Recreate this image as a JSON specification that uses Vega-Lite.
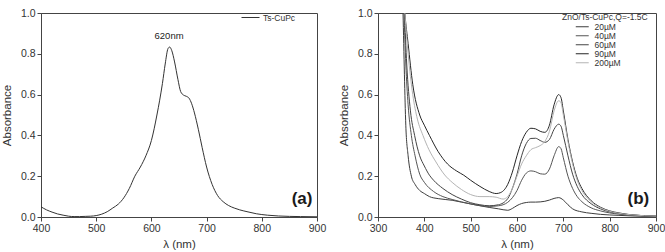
{
  "$schema": "https://vega.github.io/schema/vega-lite/v6.json",
  "padding": {"left": 0, "top": 7, "right": 2, "bottom": 0},
  "background": "white",
  "spacing": 10,
  "config": {
    "font": "Liberation Sans",
    "view": {"stroke": "#444", "strokeWidth": 1},
    "axis": {
      "labelFont": "Liberation Sans", "labelFontSize": 10.5, "labelColor": "#333",
      "titleFont": "Liberation Sans", "titleFontSize": 11.5, "titleFontWeight": "normal", "titleColor": "#333",
      "domainColor": "#444", "tickColor": "#444", "grid": false, "labelPadding": 2
    },
    "legend": {"labelFont": "Liberation Sans", "titleFont": "Liberation Sans"}
  },
  "datasets": {
    "tscupc": [
      {"lambda": 400, "A": 0.05}, {"lambda": 410, "A": 0.035}, {"lambda": 420, "A": 0.024}, {"lambda": 430, "A": 0.015},
      {"lambda": 440, "A": 0.009}, {"lambda": 450, "A": 0.004}, {"lambda": 460, "A": 0.002}, {"lambda": 470, "A": 0.002},
      {"lambda": 480, "A": 0.003}, {"lambda": 490, "A": 0.004}, {"lambda": 500, "A": 0.007}, {"lambda": 510, "A": 0.014},
      {"lambda": 520, "A": 0.026}, {"lambda": 530, "A": 0.044}, {"lambda": 540, "A": 0.063}, {"lambda": 550, "A": 0.094},
      {"lambda": 560, "A": 0.14}, {"lambda": 570, "A": 0.2}, {"lambda": 580, "A": 0.245}, {"lambda": 590, "A": 0.3},
      {"lambda": 600, "A": 0.375}, {"lambda": 610, "A": 0.5}, {"lambda": 620, "A": 0.655}, {"lambda": 625, "A": 0.75},
      {"lambda": 630, "A": 0.825}, {"lambda": 633, "A": 0.833}, {"lambda": 637, "A": 0.815}, {"lambda": 642, "A": 0.76},
      {"lambda": 648, "A": 0.675}, {"lambda": 653, "A": 0.615}, {"lambda": 658, "A": 0.598}, {"lambda": 663, "A": 0.592},
      {"lambda": 668, "A": 0.583}, {"lambda": 673, "A": 0.555}, {"lambda": 678, "A": 0.51}, {"lambda": 685, "A": 0.43},
      {"lambda": 692, "A": 0.34}, {"lambda": 700, "A": 0.245}, {"lambda": 710, "A": 0.16}, {"lambda": 720, "A": 0.105},
      {"lambda": 730, "A": 0.075}, {"lambda": 740, "A": 0.056}, {"lambda": 750, "A": 0.044}, {"lambda": 760, "A": 0.035},
      {"lambda": 775, "A": 0.025}, {"lambda": 790, "A": 0.016}, {"lambda": 810, "A": 0.009}, {"lambda": 830, "A": 0.005},
      {"lambda": 850, "A": 0.003}, {"lambda": 870, "A": 0.002}, {"lambda": 900, "A": 0.001}
    ],
    "films": [
      {"conc": "20µM", "lambda": 350, "A": 1.3}, {"conc": "20µM", "lambda": 354, "A": 1.0}, {"conc": "20µM", "lambda": 357, "A": 0.7},
      {"conc": "20µM", "lambda": 360, "A": 0.45}, {"conc": "20µM", "lambda": 365, "A": 0.3}, {"conc": "20µM", "lambda": 372, "A": 0.2},
      {"conc": "20µM", "lambda": 380, "A": 0.16}, {"conc": "20µM", "lambda": 390, "A": 0.13}, {"conc": "20µM", "lambda": 400, "A": 0.115},
      {"conc": "20µM", "lambda": 411, "A": 0.1}, {"conc": "20µM", "lambda": 430, "A": 0.09}, {"conc": "20µM", "lambda": 460, "A": 0.082},
      {"conc": "20µM", "lambda": 480, "A": 0.073}, {"conc": "20µM", "lambda": 500, "A": 0.064}, {"conc": "20µM", "lambda": 520, "A": 0.055},
      {"conc": "20µM", "lambda": 540, "A": 0.047}, {"conc": "20µM", "lambda": 560, "A": 0.04}, {"conc": "20µM", "lambda": 580, "A": 0.033},
      {"conc": "20µM", "lambda": 590, "A": 0.042}, {"conc": "20µM", "lambda": 600, "A": 0.056}, {"conc": "20µM", "lambda": 610, "A": 0.066},
      {"conc": "20µM", "lambda": 620, "A": 0.071}, {"conc": "20µM", "lambda": 630, "A": 0.073}, {"conc": "20µM", "lambda": 640, "A": 0.073},
      {"conc": "20µM", "lambda": 650, "A": 0.074}, {"conc": "20µM", "lambda": 660, "A": 0.077}, {"conc": "20µM", "lambda": 670, "A": 0.083},
      {"conc": "20µM", "lambda": 680, "A": 0.091}, {"conc": "20µM", "lambda": 690, "A": 0.095}, {"conc": "20µM", "lambda": 700, "A": 0.083},
      {"conc": "20µM", "lambda": 710, "A": 0.06}, {"conc": "20µM", "lambda": 720, "A": 0.04}, {"conc": "20µM", "lambda": 740, "A": 0.025},
      {"conc": "20µM", "lambda": 760, "A": 0.018}, {"conc": "20µM", "lambda": 780, "A": 0.013}, {"conc": "20µM", "lambda": 800, "A": 0.01},
      {"conc": "20µM", "lambda": 820, "A": 0.008}, {"conc": "20µM", "lambda": 850, "A": 0.005}, {"conc": "20µM", "lambda": 900, "A": 0.002},

      {"conc": "40µM", "lambda": 350, "A": 1.3}, {"conc": "40µM", "lambda": 356, "A": 1.0}, {"conc": "40µM", "lambda": 360, "A": 0.75},
      {"conc": "40µM", "lambda": 365, "A": 0.55}, {"conc": "40µM", "lambda": 372, "A": 0.4}, {"conc": "40µM", "lambda": 380, "A": 0.3},
      {"conc": "40µM", "lambda": 390, "A": 0.21}, {"conc": "40µM", "lambda": 400, "A": 0.17}, {"conc": "40µM", "lambda": 420, "A": 0.125},
      {"conc": "40µM", "lambda": 440, "A": 0.1}, {"conc": "40µM", "lambda": 460, "A": 0.086}, {"conc": "40µM", "lambda": 480, "A": 0.074},
      {"conc": "40µM", "lambda": 500, "A": 0.064}, {"conc": "40µM", "lambda": 520, "A": 0.056}, {"conc": "40µM", "lambda": 540, "A": 0.052},
      {"conc": "40µM", "lambda": 560, "A": 0.055}, {"conc": "40µM", "lambda": 580, "A": 0.072}, {"conc": "40µM", "lambda": 600, "A": 0.13},
      {"conc": "40µM", "lambda": 610, "A": 0.18}, {"conc": "40µM", "lambda": 620, "A": 0.215}, {"conc": "40µM", "lambda": 630, "A": 0.226},
      {"conc": "40µM", "lambda": 640, "A": 0.222}, {"conc": "40µM", "lambda": 650, "A": 0.212}, {"conc": "40µM", "lambda": 660, "A": 0.21},
      {"conc": "40µM", "lambda": 670, "A": 0.235}, {"conc": "40µM", "lambda": 680, "A": 0.3}, {"conc": "40µM", "lambda": 690, "A": 0.345},
      {"conc": "40µM", "lambda": 695, "A": 0.335}, {"conc": "40µM", "lambda": 700, "A": 0.29}, {"conc": "40µM", "lambda": 710, "A": 0.2},
      {"conc": "40µM", "lambda": 720, "A": 0.14}, {"conc": "40µM", "lambda": 730, "A": 0.1}, {"conc": "40µM", "lambda": 740, "A": 0.075},
      {"conc": "40µM", "lambda": 760, "A": 0.045}, {"conc": "40µM", "lambda": 780, "A": 0.03}, {"conc": "40µM", "lambda": 800, "A": 0.02},
      {"conc": "40µM", "lambda": 820, "A": 0.014}, {"conc": "40µM", "lambda": 850, "A": 0.008}, {"conc": "40µM", "lambda": 900, "A": 0.003},

      {"conc": "60µM", "lambda": 350, "A": 1.3}, {"conc": "60µM", "lambda": 357, "A": 1.0}, {"conc": "60µM", "lambda": 362, "A": 0.75},
      {"conc": "60µM", "lambda": 370, "A": 0.52}, {"conc": "60µM", "lambda": 379, "A": 0.4}, {"conc": "60µM", "lambda": 390, "A": 0.3},
      {"conc": "60µM", "lambda": 400, "A": 0.25}, {"conc": "60µM", "lambda": 411, "A": 0.205}, {"conc": "60µM", "lambda": 420, "A": 0.18},
      {"conc": "60µM", "lambda": 440, "A": 0.14}, {"conc": "60µM", "lambda": 460, "A": 0.11}, {"conc": "60µM", "lambda": 480, "A": 0.088},
      {"conc": "60µM", "lambda": 500, "A": 0.07}, {"conc": "60µM", "lambda": 520, "A": 0.06}, {"conc": "60µM", "lambda": 540, "A": 0.055},
      {"conc": "60µM", "lambda": 560, "A": 0.06}, {"conc": "60µM", "lambda": 580, "A": 0.09}, {"conc": "60µM", "lambda": 590, "A": 0.14},
      {"conc": "60µM", "lambda": 600, "A": 0.21}, {"conc": "60µM", "lambda": 610, "A": 0.3}, {"conc": "60µM", "lambda": 620, "A": 0.36},
      {"conc": "60µM", "lambda": 630, "A": 0.385}, {"conc": "60µM", "lambda": 640, "A": 0.386}, {"conc": "60µM", "lambda": 650, "A": 0.375},
      {"conc": "60µM", "lambda": 660, "A": 0.366}, {"conc": "60µM", "lambda": 670, "A": 0.38}, {"conc": "60µM", "lambda": 680, "A": 0.43},
      {"conc": "60µM", "lambda": 690, "A": 0.455}, {"conc": "60µM", "lambda": 695, "A": 0.445}, {"conc": "60µM", "lambda": 700, "A": 0.4},
      {"conc": "60µM", "lambda": 710, "A": 0.3}, {"conc": "60µM", "lambda": 720, "A": 0.21}, {"conc": "60µM", "lambda": 730, "A": 0.15},
      {"conc": "60µM", "lambda": 740, "A": 0.11}, {"conc": "60µM", "lambda": 760, "A": 0.065}, {"conc": "60µM", "lambda": 780, "A": 0.04},
      {"conc": "60µM", "lambda": 800, "A": 0.025}, {"conc": "60µM", "lambda": 820, "A": 0.017}, {"conc": "60µM", "lambda": 850, "A": 0.01},
      {"conc": "60µM", "lambda": 900, "A": 0.004},

      {"conc": "90µM", "lambda": 350, "A": 1.3}, {"conc": "90µM", "lambda": 358, "A": 1.0}, {"conc": "90µM", "lambda": 365, "A": 0.85},
      {"conc": "90µM", "lambda": 375, "A": 0.65}, {"conc": "90µM", "lambda": 390, "A": 0.5}, {"conc": "90µM", "lambda": 400, "A": 0.45},
      {"conc": "90µM", "lambda": 411, "A": 0.4}, {"conc": "90µM", "lambda": 430, "A": 0.32}, {"conc": "90µM", "lambda": 450, "A": 0.26},
      {"conc": "90µM", "lambda": 470, "A": 0.225}, {"conc": "90µM", "lambda": 485, "A": 0.205}, {"conc": "90µM", "lambda": 500, "A": 0.18},
      {"conc": "90µM", "lambda": 520, "A": 0.15}, {"conc": "90µM", "lambda": 540, "A": 0.125}, {"conc": "90µM", "lambda": 555, "A": 0.115},
      {"conc": "90µM", "lambda": 565, "A": 0.12}, {"conc": "90µM", "lambda": 580, "A": 0.16}, {"conc": "90µM", "lambda": 590, "A": 0.22},
      {"conc": "90µM", "lambda": 600, "A": 0.3}, {"conc": "90µM", "lambda": 610, "A": 0.37}, {"conc": "90µM", "lambda": 620, "A": 0.415},
      {"conc": "90µM", "lambda": 630, "A": 0.435}, {"conc": "90µM", "lambda": 640, "A": 0.432}, {"conc": "90µM", "lambda": 650, "A": 0.42},
      {"conc": "90µM", "lambda": 660, "A": 0.415}, {"conc": "90µM", "lambda": 670, "A": 0.45}, {"conc": "90µM", "lambda": 680, "A": 0.55},
      {"conc": "90µM", "lambda": 690, "A": 0.6}, {"conc": "90µM", "lambda": 695, "A": 0.585}, {"conc": "90µM", "lambda": 700, "A": 0.52},
      {"conc": "90µM", "lambda": 710, "A": 0.38}, {"conc": "90µM", "lambda": 720, "A": 0.27}, {"conc": "90µM", "lambda": 730, "A": 0.19},
      {"conc": "90µM", "lambda": 740, "A": 0.14}, {"conc": "90µM", "lambda": 760, "A": 0.08}, {"conc": "90µM", "lambda": 780, "A": 0.048},
      {"conc": "90µM", "lambda": 800, "A": 0.03}, {"conc": "90µM", "lambda": 820, "A": 0.02}, {"conc": "90µM", "lambda": 850, "A": 0.01},
      {"conc": "90µM", "lambda": 900, "A": 0.004},

      {"conc": "200µM", "lambda": 350, "A": 1.3}, {"conc": "200µM", "lambda": 358, "A": 1.0}, {"conc": "200µM", "lambda": 365, "A": 0.8},
      {"conc": "200µM", "lambda": 375, "A": 0.6}, {"conc": "200µM", "lambda": 385, "A": 0.48}, {"conc": "200µM", "lambda": 397, "A": 0.4},
      {"conc": "200µM", "lambda": 410, "A": 0.33}, {"conc": "200µM", "lambda": 425, "A": 0.27}, {"conc": "200µM", "lambda": 444, "A": 0.206},
      {"conc": "200µM", "lambda": 460, "A": 0.17}, {"conc": "200µM", "lambda": 480, "A": 0.135}, {"conc": "200µM", "lambda": 500, "A": 0.11},
      {"conc": "200µM", "lambda": 520, "A": 0.1}, {"conc": "200µM", "lambda": 540, "A": 0.1}, {"conc": "200µM", "lambda": 555, "A": 0.097},
      {"conc": "200µM", "lambda": 570, "A": 0.088}, {"conc": "200µM", "lambda": 580, "A": 0.1}, {"conc": "200µM", "lambda": 590, "A": 0.14},
      {"conc": "200µM", "lambda": 600, "A": 0.2}, {"conc": "200µM", "lambda": 610, "A": 0.26}, {"conc": "200µM", "lambda": 620, "A": 0.3},
      {"conc": "200µM", "lambda": 630, "A": 0.33}, {"conc": "200µM", "lambda": 640, "A": 0.34}, {"conc": "200µM", "lambda": 650, "A": 0.35},
      {"conc": "200µM", "lambda": 660, "A": 0.37}, {"conc": "200µM", "lambda": 670, "A": 0.42}, {"conc": "200µM", "lambda": 680, "A": 0.52},
      {"conc": "200µM", "lambda": 690, "A": 0.57}, {"conc": "200µM", "lambda": 695, "A": 0.56}, {"conc": "200µM", "lambda": 700, "A": 0.5},
      {"conc": "200µM", "lambda": 710, "A": 0.37}, {"conc": "200µM", "lambda": 720, "A": 0.26}, {"conc": "200µM", "lambda": 730, "A": 0.18},
      {"conc": "200µM", "lambda": 740, "A": 0.13}, {"conc": "200µM", "lambda": 760, "A": 0.075}, {"conc": "200µM", "lambda": 780, "A": 0.045},
      {"conc": "200µM", "lambda": 800, "A": 0.028}, {"conc": "200µM", "lambda": 820, "A": 0.018}, {"conc": "200µM", "lambda": 850, "A": 0.01},
      {"conc": "200µM", "lambda": 900, "A": 0.004}
    ]
  },
  "hconcat": [
    {
      "width": 276,
      "height": 204,
      "layer": [
        {
          "data": {"name": "tscupc"},
          "transform": [{"calculate": "'Ts-CuPc'", "as": "sample"}],
          "mark": {"type": "line", "interpolate": "monotone", "strokeWidth": 1, "clip": true},
          "encoding": {
            "x": {
              "field": "lambda", "type": "quantitative", "title": "λ  (nm)",
              "scale": {"domain": [400, 900], "nice": false, "zero": false},
              "axis": {
                "values": [400, 450, 500, 550, 600, 650, 700, 750, 800, 850, 900],
                "labelExpr": "datum.value % 100 == 0 ? datum.label : ''",
                "tickSize": {"condition": {"test": "datum.value % 100 == 0", "value": 4}, "value": 2.5},
                "titlePadding": 5, "labelFlush": false
              }
            },
            "y": {
              "field": "A", "type": "quantitative", "title": "Absorbance",
              "scale": {"domain": [0, 1], "nice": false},
              "axis": {
                "values": [0, 0.1, 0.2, 0.3, 0.4, 0.5, 0.6, 0.7, 0.8, 0.9, 1.0],
                "format": ".1f",
                "labelExpr": "round(datum.value * 10) % 2 == 0 ? datum.label : ''",
                "tickSize": {"condition": {"test": "round(datum.value * 10) % 2 == 0", "value": 4}, "value": 2.5},
                "titlePadding": 8, "labelFlush": false
              }
            },
            "color": {
              "field": "sample", "type": "nominal",
              "scale": {"range": ["#333333"]},
              "legend": {
                "title": null, "orient": "none", "legendX": 200, "legendY": -5,
                "symbolType": "stroke", "symbolSize": 324, "symbolStrokeWidth": 1,
                "labelFontSize": 8.5, "labelColor": "#333", "labelOffset": 3, "padding": 0
              }
            }
          }
        },
        {
          "data": {"values": [{"lambda": 632, "A": 0.885, "label": "620nm"}]},
          "mark": {"type": "text", "font": "Liberation Sans", "color": "#222", "baseline": "middle", "fontSize": 9.5},
          "encoding": {
            "x": {"field": "lambda", "type": "quantitative"},
            "y": {"field": "A", "type": "quantitative"},
            "text": {"field": "label"}
          }
        },
        {
          "data": {"values": [{"lambda": 873, "A": 0.09, "label": "(a)"}]},
          "mark": {"type": "text", "font": "Liberation Sans", "color": "#1a1a1a", "baseline": "middle", "fontSize": 17, "fontWeight": "bold"},
          "encoding": {
            "x": {"field": "lambda", "type": "quantitative"},
            "y": {"field": "A", "type": "quantitative"},
            "text": {"field": "label"}
          }
        }
      ]
    },
    {
      "width": 278,
      "height": 204,
      "layer": [
        {
          "data": {"name": "films"},
          "mark": {"type": "line", "interpolate": "monotone", "strokeWidth": 1, "clip": true},
          "encoding": {
            "x": {
              "field": "lambda", "type": "quantitative", "title": "λ (nm)",
              "scale": {"domain": [300, 900], "nice": false, "zero": false},
              "axis": {
                "values": [300, 350, 400, 450, 500, 550, 600, 650, 700, 750, 800, 850, 900],
                "labelExpr": "datum.value % 100 == 0 ? datum.label : ''",
                "tickSize": {"condition": {"test": "datum.value % 100 == 0", "value": 4}, "value": 2.5},
                "titlePadding": 5, "labelFlush": false
              }
            },
            "y": {
              "field": "A", "type": "quantitative", "title": "Absorbance",
              "scale": {"domain": [0, 1], "nice": false},
              "axis": {
                "values": [0, 0.1, 0.2, 0.3, 0.4, 0.5, 0.6, 0.7, 0.8, 0.9, 1.0],
                "format": ".1f",
                "labelExpr": "round(datum.value * 10) % 2 == 0 ? datum.label : ''",
                "tickSize": {"condition": {"test": "round(datum.value * 10) % 2 == 0", "value": 4}, "value": 2.5},
                "titlePadding": 8, "labelFlush": false
              }
            },
            "color": {
              "field": "conc", "type": "nominal",
              "scale": {
                "domain": ["20µM", "40µM", "60µM", "90µM", "200µM"],
                "range": ["#3c3c3c", "#555555", "#444444", "#262626", "#b4b4b4"]
              },
              "legend": {
                "title": "ZnO/Ts-CuPc,Q=-1.5C", "orient": "none", "legendX": 184, "legendY": 0,
                "titleFontSize": 8.5, "titleFontWeight": "normal", "titleColor": "#333", "titlePadding": 1,
                "symbolType": "M-2,0H2", "symbolSize": 42, "symbolStrokeWidth": 1, "symbolOffset": 16,
                "labelFontSize": 8.5, "labelColor": "#333", "labelOffset": 8, "rowPadding": 0, "padding": 0
              }
            }
          }
        },
        {
          "data": {"values": [{"lambda": 862, "A": 0.09, "label": "(b)"}]},
          "mark": {"type": "text", "font": "Liberation Sans", "color": "#1a1a1a", "baseline": "middle", "fontSize": 17, "fontWeight": "bold"},
          "encoding": {
            "x": {"field": "lambda", "type": "quantitative"},
            "y": {"field": "A", "type": "quantitative"},
            "text": {"field": "label"}
          }
        }
      ]
    }
  ],
  "resolve": {"scale": {"color": "independent"}}
}
